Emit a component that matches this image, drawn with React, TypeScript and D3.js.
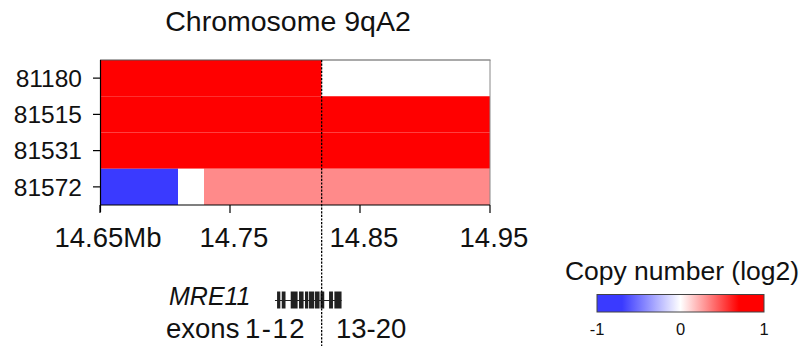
import React from "react";
import * as d3 from "d3";

const title = "Chromosome 9qA2";
const samples = ["81180", "81515", "81531", "81572"];
const xTicks = [14.65, 14.75, 14.85, 14.95];
const xTickLabels = ["14.65Mb", "14.75", "14.85", "14.95"];

// copy-number segments (Mb, log2)
const segSample = ["81180", "81180", "81515", "81531", "81572", "81572", "81572"];
const segStart = [14.65, 14.8205, 14.65, 14.65, 14.65, 14.71, 14.73];
const segEnd = [14.8205, 14.95, 14.95, 14.95, 14.71, 14.73, 14.95];
const segValue = [1.0, 0.0, 1.0, 1.0, -0.8, 0.0, 0.32];

const breakpoint = 14.8205;

// MRE11 gene model (Mb)
const geneName = "MRE11";
const geneStart = 14.7846;
const geneEnd = 14.8359;
const exonStart = [14.7862, 14.7898, 14.7967, 14.8031, 14.8077, 14.8108, 14.8154, 14.8196, 14.8262, 14.8303];
const exonEnd = [14.7887, 14.7927, 14.802, 14.8066, 14.8102, 14.8148, 14.8189, 14.8225, 14.8292, 14.8358];

const legendTitle = "Copy number (log2)";
const legendTicks = [-1, 0, 1];

const FONT = "'Liberation Sans', Arial, Helvetica, sans-serif";

export default function App() {
  const W = 804, H = 346;
  const x = d3.scaleLinear().domain([14.65, 14.95]).range([100, 490]);
  const y = d3.scaleBand<string>().domain(samples).range([60, 205]);
  const color = d3
    .scaleLinear<string>()
    .domain([-1, -0.7, 0, 0.7, 1])
    .range(["#3a3aff", "#3a3aff", "#ffffff", "#ff0000", "#ff0000"])
    .clamp(true);
  const lx = d3.scaleLinear().domain([-1, 1]).range([597, 764]);
  const stops = d3.range(0, 1.0001, 0.05);

  const top = 60, bottom = 205;
  const bx = x(breakpoint);

  return (
    <svg width={W} height={H} style={{ position: "absolute", left: 0, top: 0, background: "#fff" }}>
      <defs>
        <linearGradient id="cn" x1="0" x2="1" y1="0" y2="0">
          {stops.map((t, i) => (
            <stop key={i} offset={t} stopColor={color(-1 + 2 * t)} />
          ))}
        </linearGradient>
      </defs>
      <text x={288} y={31} fontFamily={FONT} fontSize={28.5} textAnchor="middle" fill="#111">
        {title}
      </text>

      {segSample.map((s, i) => (
        <rect
          key={i}
          x={x(segStart[i])}
          y={y(s)!}
          width={x(segEnd[i]) - x(segStart[i])}
          height={y.bandwidth()}
          fill={color(segValue[i])}
        />
      ))}

      {/* frame top/right */}
      <line x1={100} x2={490.5} y1={top} y2={top} stroke="#555" strokeWidth={1} />
      <line x1={490} x2={490} y1={top} y2={bottom} stroke="#888" strokeWidth={1} />

      {/* left axis */}
      <line x1={100.5} x2={100.5} y1={top} y2={212} stroke="#000" strokeWidth={1.2} />
      {samples.map((s) => {
        const cy = y(s)! + y.bandwidth() / 2;
        return (
          <g key={s}>
            <line x1={93} x2={100} y1={cy} y2={cy} stroke="#000" strokeWidth={1.2} />
            <text x={82} y={cy + 8.7} fontFamily={FONT} fontSize={24.5} textAnchor="end" fill="#111">
              {s}
            </text>
          </g>
        );
      })}

      {/* bottom axis */}
      <line x1={100} x2={490} y1={bottom} y2={bottom} stroke="#000" strokeWidth={1.2} />
      {xTicks.map((t, i) => (
        <g key={t}>
          <line x1={x(t)} x2={x(t)} y1={bottom} y2={213} stroke="#000" strokeWidth={1.2} />
          <text
            x={x(t) + (i === 0 ? 8 : 4)}
            y={247}
            fontFamily={FONT}
            fontSize={27.5}
            textAnchor="middle"
            fill="#111"
          >
            {xTickLabels[i]}
          </text>
        </g>
      ))}

      {/* gene model */}
      <text x={169} y={305} fontFamily={FONT} fontSize={25} fontStyle="italic" fill="#111">
        {geneName}
      </text>
      <line x1={x(geneStart)} x2={x(geneEnd)} y1={300.5} y2={300.5} stroke="#222" strokeWidth={1.2} />
      {exonStart.map((s, i) => (
        <rect key={i} x={x(s)} y={291.5} width={x(exonEnd[i]) - x(s)} height={17} fill="#222" />
      ))}
      <text x={166} y={338} fontFamily={FONT} fontSize={27.5} fill="#111">
        exons
      </text>
      <text x={245} y={338} fontFamily={FONT} fontSize={27.5} fill="#111" letterSpacing={1.5}>
        1-12
      </text>
      <text x={336} y={338} fontFamily={FONT} fontSize={27.5} fill="#111">
        13-20
      </text>

      {/* breakpoint dashed line */}
      <line x1={bx} x2={bx} y1={top} y2={H} stroke="#000" strokeWidth={1.3} strokeDasharray="2.2,1.4" />

      {/* legend */}
      <text x={682} y={280} fontFamily={FONT} fontSize={26.5} textAnchor="middle" fill="#111">
        {legendTitle}
      </text>
      <rect x={lx(-1)} y={294.5} width={lx(1) - lx(-1)} height={17.5} fill="url(#cn)" stroke="#444" strokeWidth={1} />
      {legendTicks.map((t) => (
        <text key={t} x={lx(t)} y={335} fontFamily={FONT} fontSize={16.5} textAnchor="middle" fill="#111">
          {t}
        </text>
      ))}
    </svg>
  );
}
